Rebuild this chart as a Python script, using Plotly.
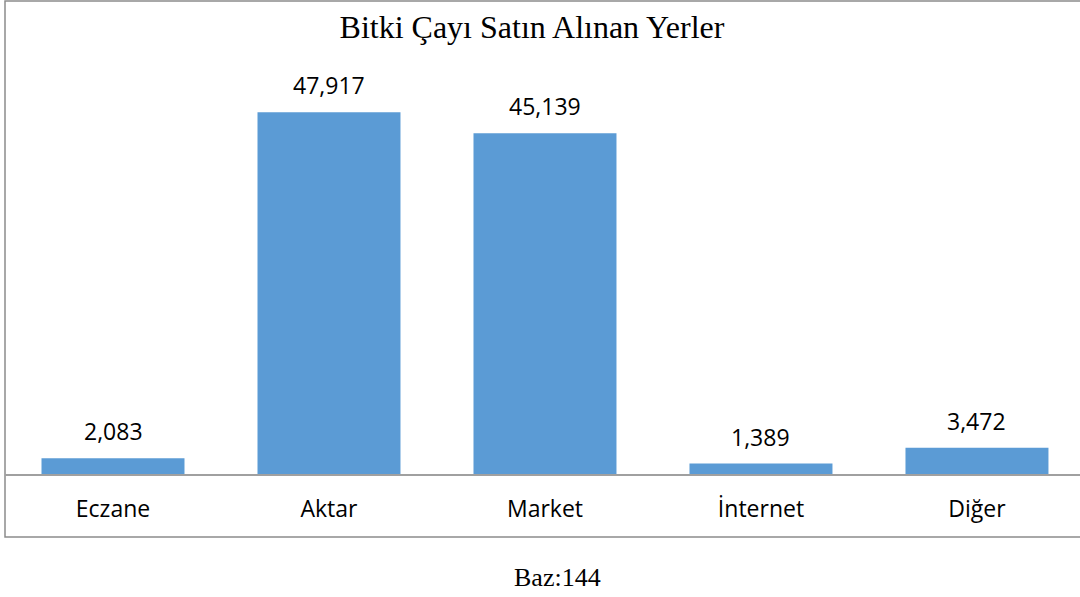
import plotly.graph_objects as go

categories = ["Eczane", "Aktar", "Market", "İnternet", "Diğer"]
values = [2.083, 47.917, 45.139, 1.389, 3.472]
labels = [f"{v:.3f}".replace(".", ",") for v in values]
title_text = "Bitki Çayı Satın Alınan Yerler"
base_text = "Baz:144"

W, H = 1080, 597
plot_top, plot_bottom = 21, 474
ph = plot_bottom - plot_top

def py(pix):
    return (plot_bottom - pix) / ph

fig = go.Figure()
fig.add_trace(go.Bar(
    x=list(range(len(categories))), y=values,
    marker=dict(color="#5B9BD5", line=dict(width=0)),
    width=0.662, hoverinfo="skip",
))

for i, (v, t) in enumerate(zip(values, labels)):
    fig.add_annotation(x=i, y=v, text=t, showarrow=False, yanchor="bottom",
                       yshift=9, font=dict(family="Open Sans", size=23, color="#000000"))

fig.add_annotation(xref="paper", yref="paper", x=(558 - 5) / 1075, y=py(577),
                   text=base_text, showarrow=False, yanchor="middle", xanchor="center",
                   font=dict(family="Liberation Serif", size=26, color="#000000"))

fig.add_shape(type="rect", xref="paper", yref="paper", x0=0, x1=1.02,
              y0=py(537), y1=py(1), line=dict(color="#8c8c8c", width=1.5),
              fillcolor="rgba(0,0,0,0)", layer="below")

fig.update_layout(
    width=W, height=H,
    margin=dict(l=5, r=0, t=plot_top, b=H - plot_bottom),
    paper_bgcolor="white", plot_bgcolor="white",
    showlegend=False,
    title=dict(text=title_text, x=532 / W, xanchor="center", xref="container",
               y=1 - 27 / H, yanchor="middle", yref="container",
               font=dict(family="Liberation Serif", size=32, color="#000000")),
    xaxis=dict(tickmode="array", tickvals=list(range(len(categories))), ticktext=categories,
               range=[-0.5, 4.477], showgrid=False, zeroline=False,
               showline=True, linecolor="#a0a0a0", linewidth=1.5,
               ticks="outside", ticklen=14, tickcolor="rgba(0,0,0,0)",
               tickfont=dict(family="Open Sans", size=23, color="#000000")),
    yaxis=dict(range=[0, 60], visible=False, showgrid=False, zeroline=False),
)

fig.write_html("out.html", config={"displayModeBar": False},
               post_script="document.body.style.margin='0px';")
